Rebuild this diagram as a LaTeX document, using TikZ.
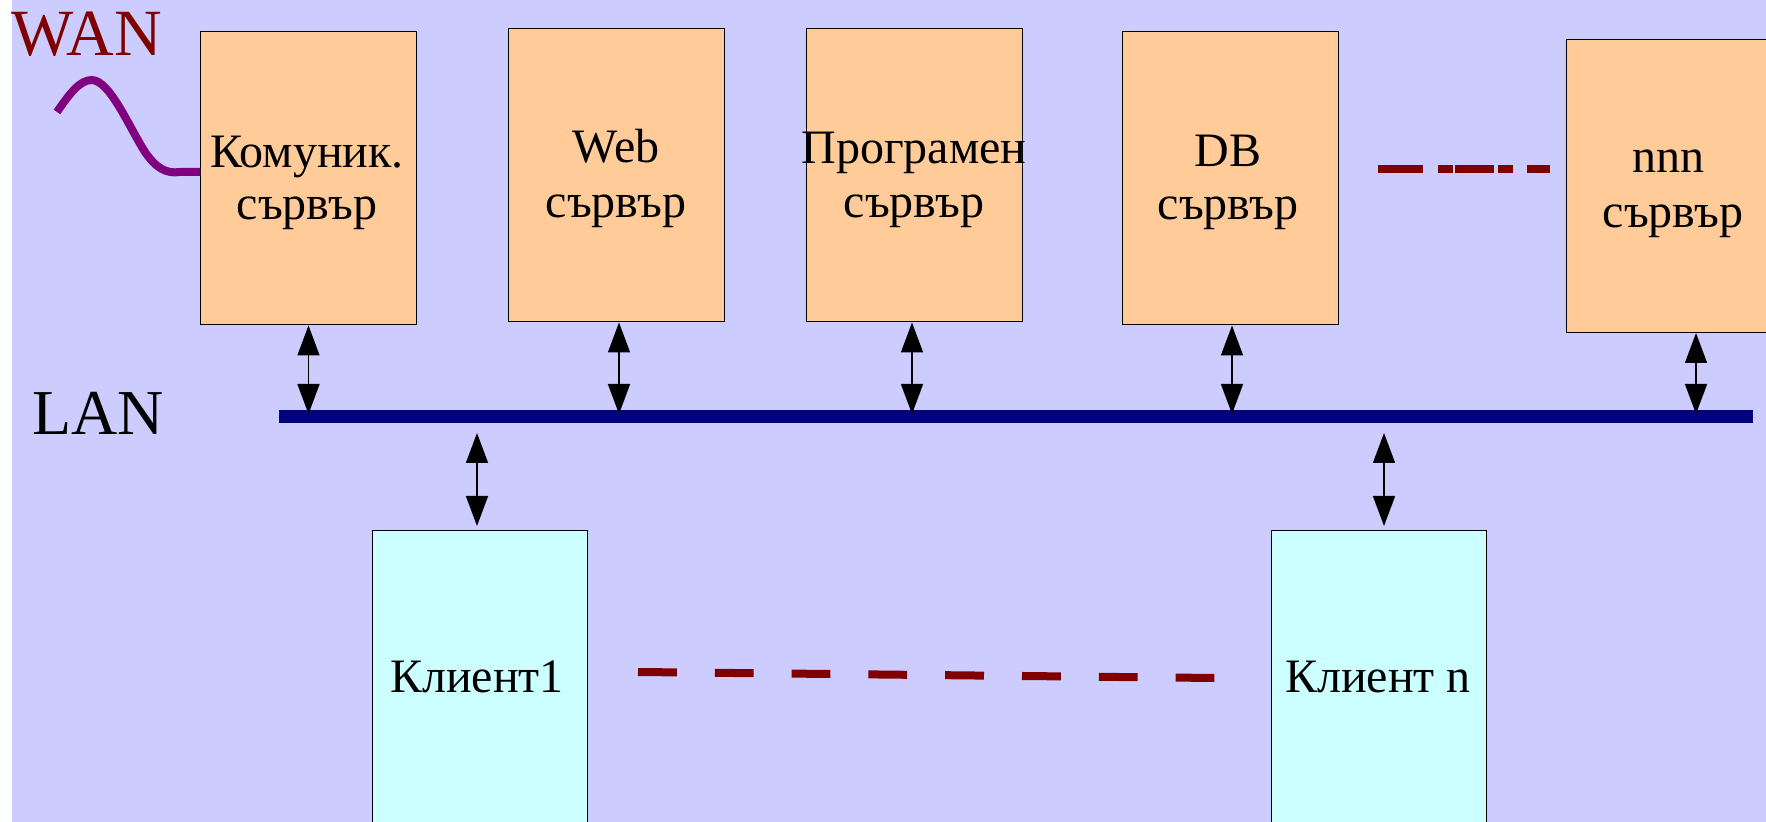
\documentclass[tikz,border=0pt]{standalone}
\usepackage{fontspec}
\setmainfont{Liberation Serif}
\usetikzlibrary{arrows.meta,calc}
\definecolor{bglav}{HTML}{CCCCFF}
\definecolor{peach}{HTML}{FFCC99}
\definecolor{cyanbox}{HTML}{CCFFFF}
\definecolor{darkred}{HTML}{800000}
\definecolor{wanpurple}{HTML}{800080}
\definecolor{lannavy}{HTML}{000080}
\tikzset{
  srv/.style={draw=black, line width=0.5pt, fill=peach, minimum width=108pt, minimum height=146.5pt, inner sep=0pt},
  cli/.style={draw=black, line width=0.5pt, fill=cyanbox, minimum width=107.5pt, minimum height=146.5pt, inner sep=0pt},
  lbl/.style={anchor=base, inner sep=0pt, font=\fontsize{24pt}{28pt}\selectfont},
  arr/.style={line width=0.75pt, {Triangle[width=11pt,length=15pt]}-{Triangle[width=11pt,length=15pt]}},
  dashln/.style={draw=darkred, line width=4pt},
}
\begin{document}
\begin{tikzpicture}[x=0.5pt,y=-0.5pt]
\useasboundingbox (0,0) rectangle (1766,822);
\fill[white] (0,0) rectangle (1766,822);
\fill[bglav] (12,0) rectangle (1766,822);
% servers
\node[srv] (s1) at (308.5,178.5) {};
\node[srv] (s2) at (616.5,175.5) {};
\node[srv] (s3) at (914.5,175.5) {};
\node[srv] (s4) at (1230,178.5) {};
\node[srv] (s5) at (1674,186) {};
% clients
\node[cli] (c1) at (479.5,677.5) {};
\node[cli] (cn) at (1378.5,677.5) {};
% labels
\node[lbl] (s1a) at (307,168) {Комуник.};
\node[lbl] (s1b) at (307,220) {сървър};
\node[lbl] (s2a) at (616,163) {Web};
\node[lbl] (s2b) at (616,218) {сървър};
\node[lbl] (s3a) at (914,164) {Програмен};
\node[lbl] (s3b) at (914,218) {сървър};
\node[lbl] (s4a) at (1228,167) {DB};
\node[lbl] (s4b) at (1228,220) {сървър};
\node[lbl] (s5a) at (1668,173) {nnn};
\node[lbl] (s5b) at (1673,228) {сървър};
\node[lbl] (c1a) at (477,693) {Клиент1};
\node[lbl] (cna) at (1378,693) {Клиент n};
\node[anchor=base west, inner sep=0pt, text=darkred, font=\fontsize{33pt}{38pt}\selectfont] (wan) at (11,56) {WAN};
\node[anchor=base west, inner sep=0pt, font=\fontsize{32pt}{38pt}\selectfont] (lan) at (32,435) {LAN};
% LAN bar
\coordinate (lanL) at (279,417);
\coordinate (lanR) at (1753,417);
\draw[lannavy, line width=6.5pt] (lanL) -- (lanR);
\coordinate (lany) at (0,414);
\coordinate (ctop) at (0,433);
\coordinate (cbot) at (0,526);
% server arrows
\draw[arr] (s1.south) -- (s1.south |- lany);
\draw[arr] ([xshift=1.25pt]s2.south) -- ([xshift=1.25pt]s2.south |- lany);
\draw[arr] ([xshift=-1.25pt]s3.south) -- ([xshift=-1.25pt]s3.south |- lany);
\draw[arr] ([xshift=1pt]s4.south) -- ([xshift=1pt]s4.south |- lany);
\draw[arr] ([xshift=11pt]s5.south) -- ([xshift=11pt]s5.south |- lany);
% client arrows
\draw[arr] ([xshift=-1.25pt]c1.north |- ctop) -- ([xshift=-1.25pt]c1.north |- cbot);
\draw[arr] ([xshift=2.75pt]cn.north |- ctop) -- ([xshift=2.75pt]cn.north |- cbot);
% WAN wave
\coordinate (w0) at (57,112);
\coordinate (wy) at (0,172);
\draw[wanpurple, line width=4pt] (w0) .. controls (70,93) and (80,80) .. (92,80)
  .. controls (110,81) and (128,125) .. (145,152)
  .. controls (156,168) and (166,174) .. (180,172) -- (s1.west |- wy);
% dashed lines
\coordinate (d1) at (638,672);
\coordinate (d2) at (1215,678);
\draw[dashln, dash pattern=on 19.4pt off 19pt] (d1) -- (d2);
\coordinate (t1) at (1378,169);
\coordinate (t2) at (1550,169);
\draw[dashln, dash pattern=on 22.5pt off 7.5pt on 7.5pt off 1pt on 19.5pt off 2pt on 7.5pt off 7pt on 11.5pt off 20pt] (t1) -- (t2);
\end{tikzpicture}
\end{document}
